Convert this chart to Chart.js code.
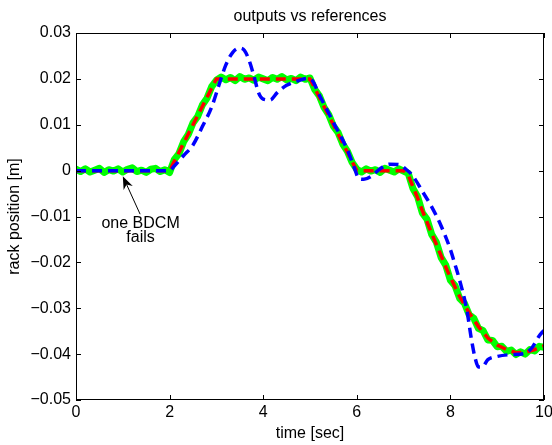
<!DOCTYPE html>
<html>
<head>
<meta charset="utf-8">
<script src="https://cdn.jsdelivr.net/npm/chart.js@4"></script>
<style>
  html, body { margin: 0; padding: 0; background: #fff; }
  #wrap { width: 552px; height: 445px; }
</style>
</head>
<body>
<div id="wrap"><canvas id="rackChart"></canvas></div>
<script>
/*********************************************************
 * DATA
 *********************************************************/
const chartTitle = "outputs vs references";
const xTitle = "time [sec]";
const yTitle = "rack position [m]";

const xTicks = [0, 2, 4, 6, 8, 10];
const xTickLabels = ["0", "2", "4", "6", "8", "10"];
const yTicks = [-0.05, -0.04, -0.03, -0.02, -0.01, 0, 0.01, 0.02, 0.03];
const yTickLabels = ["\u22120.05", "\u22120.04", "\u22120.03", "\u22120.02", "\u22120.01", "0", "0.01", "0.02", "0.03"];

// measured output (green, noisy), sampled every 0.1 s
const time = [
  0.0, 0.1, 0.2, 0.3, 0.4, 0.5, 0.6, 0.7, 0.8, 0.9,
  1.0, 1.1, 1.2, 1.3, 1.4, 1.5, 1.6, 1.7, 1.8, 1.9,
  2.0, 2.1, 2.2, 2.3, 2.4, 2.5, 2.6, 2.7, 2.8, 2.9,
  3.0, 3.1, 3.2, 3.3, 3.4, 3.5, 3.6, 3.7, 3.8, 3.9,
  4.0, 4.1, 4.2, 4.3, 4.4, 4.5, 4.6, 4.7, 4.8, 4.9,
  5.0, 5.1, 5.2, 5.3, 5.4, 5.5, 5.6, 5.7, 5.8, 5.9,
  6.0, 6.1, 6.2, 6.3, 6.4, 6.5, 6.6, 6.7, 6.8, 6.9,
  7.0, 7.1, 7.2, 7.3, 7.4, 7.5, 7.6, 7.7, 7.8, 7.9,
  8.0, 8.1, 8.2, 8.3, 8.4, 8.5, 8.6, 8.7, 8.8, 8.9,
  9.0, 9.1, 9.2, 9.3, 9.4, 9.5, 9.6, 9.7, 9.8, 9.9,
  10.0
];
const outputPos = [
  0.0003, -0.0002, 0.0004, -0.0003, 0.0001, 0.0005, -0.0004, 0.0002, -0.0001, 0.0004,
  -0.0003, 0.0003, 0.0006, -0.0002, 0.0001, -0.0004, 0.0003, 0.0005, -0.0002, 0.0002,
  -0.0004, 0.0024, 0.0037, 0.0063, 0.0079, 0.0104, 0.0118, 0.0143, 0.0158, 0.0183,
  0.0197, 0.0204, 0.0198, 0.0203, 0.0196, 0.0205, 0.0199, 0.0202, 0.0197, 0.0204,
  0.0200, 0.0196, 0.0203, 0.0199, 0.0205, 0.0198, 0.0201, 0.0196, 0.0204, 0.0199,
  0.0202, 0.0177, 0.0163, 0.0138, 0.0122, 0.0097, 0.0083, 0.0058, 0.0042, 0.0018,
  0.0003, -0.0003, 0.0004, -0.0001, 0.0002, -0.0004, 0.0005, 0.0001, -0.0003, 0.0004,
  -0.0001, -0.0006, -0.0039, -0.0057, -0.0092, -0.0106, -0.0139, -0.0156, -0.0189, -0.0206,
  -0.0239, -0.0251, -0.0279, -0.0289, -0.0314, -0.0322, -0.0344, -0.0349, -0.0369, -0.0370,
  -0.0384, -0.0383, -0.0394, -0.0391, -0.0401, -0.0395, -0.0400, -0.0390, -0.0393, -0.0383,
  -0.0385
];

// reference (red dashed)
const refTime = [0, 2, 3, 5, 6, 7, 7.1, 7.2, 7.3, 7.4, 7.5, 7.6, 7.7, 7.8, 7.9, 8.0,
  8.2, 8.4, 8.6, 8.8, 9.0, 9.2, 9.4, 9.6, 9.8, 10];
const refPos = [0, 0, 0.02, 0.02, 0, 0, -0.001, -0.0035, -0.006, -0.0087, -0.0112, -0.0137, -0.0161, -0.0185, -0.021, -0.0233,
  -0.0275, -0.031, -0.034, -0.0365, -0.038, -0.039, -0.0397, -0.0396, -0.039, -0.0382];

// output with one BDCM failed (blue dashed)
const failTime = [0, 2.0, 2.1, 2.3, 2.5, 2.7, 2.9, 3.05, 3.2, 3.35, 3.5, 3.6, 3.7, 3.8, 3.9,
  4.0, 4.15, 4.3, 4.5, 4.75, 4.95, 5.05, 5.2, 5.5, 5.8, 5.95, 6.05, 6.15, 6.3, 6.5, 6.7, 6.9,
  7.05, 7.2, 7.4, 7.6, 7.8, 8.0, 8.1, 8.2, 8.35, 8.45, 8.52, 8.6, 8.68, 8.8, 9.0, 9.3, 9.6, 9.75, 9.9, 10];
const failPos = [0, 0, 0.001, 0.0033, 0.0056, 0.0096, 0.0139, 0.0185, 0.023, 0.0258, 0.0267, 0.0262, 0.024, 0.0207, 0.017,
  0.0156, 0.0154, 0.017, 0.0186, 0.0196, 0.0201, 0.0196, 0.0165, 0.0105, 0.0045, 0.0005, -0.0018, -0.0019, -0.0013, 0.0004, 0.0014, 0.0013,
  0.0003, -0.0012, -0.0045, -0.0079, -0.012, -0.0172, -0.0205, -0.024, -0.0303, -0.0368, -0.0405, -0.0428, -0.0428, -0.0412, -0.0405, -0.0401, -0.0398, -0.0385, -0.036, -0.0348];

// annotation (data coordinates)
const noteLines = ["one BDCM", "fails"];
const noteX = 1.38;
const noteY = [-0.0116, -0.0147];
const arrowTail = [1.37, -0.0095];
const arrowTip = [1.0, -0.0012];

/*********************************************************
 * HELPERS
 *********************************************************/
const FONT = '"Liberation Sans", Arial, Helvetica, sans-serif';
Chart.defaults.font.family = FONT;
Chart.defaults.font.size = 16;
Chart.defaults.color = "#000";

function toPoints(xs, ys) {
  return xs.map((x, i) => ({ x: x, y: ys[i] }));
}

// box + inward ticks, title and annotation
const matlabFrame = {
  id: "matlabFrame",
  afterDatasetsDraw(chart) {
    const { ctx, chartArea: a, scales: { x, y } } = chart;
    const tl = 5;
    ctx.save();
    ctx.strokeStyle = "#000";
    ctx.lineWidth = 1;
    ctx.strokeRect(a.left + 0.5, a.top + 0.5, a.right - a.left - 1, a.bottom - a.top - 1);
    ctx.beginPath();
    xTicks.forEach(v => {
      const px = Math.round(x.getPixelForValue(v)) + 0.5;
      ctx.moveTo(px, a.bottom); ctx.lineTo(px, a.bottom - tl);
      ctx.moveTo(px, a.top); ctx.lineTo(px, a.top + tl);
    });
    yTicks.forEach(v => {
      const py = Math.round(y.getPixelForValue(v)) + 0.5;
      ctx.moveTo(a.left, py); ctx.lineTo(a.left + tl, py);
      ctx.moveTo(a.right, py); ctx.lineTo(a.right - tl, py);
    });
    ctx.stroke();
    ctx.restore();
  },
  afterDraw(chart) {
    const { ctx, chartArea: a, scales: { x, y } } = chart;
    ctx.save();
    ctx.fillStyle = "#000";
    ctx.strokeStyle = "#000";
    ctx.font = "16px " + FONT;
    ctx.textAlign = "center";

    // title
    ctx.textBaseline = "alphabetic";
    ctx.fillText(chartTitle, (a.left + a.right) / 2, a.top - 12);

    // note text
    ctx.textBaseline = "middle";
    noteLines.forEach((t, i) => {
      ctx.fillText(t, x.getPixelForValue(noteX), y.getPixelForValue(noteY[i]));
    });

    // arrow
    const x0 = x.getPixelForValue(arrowTail[0]), y0 = y.getPixelForValue(arrowTail[1]);
    const x1 = x.getPixelForValue(arrowTip[0]), y1 = y.getPixelForValue(arrowTip[1]);
    const ang = Math.atan2(y1 - y0, x1 - x0);
    const c = Math.cos(ang), s = Math.sin(ang);
    const hl = 13, hw = 5;
    ctx.lineWidth = 1;
    ctx.beginPath();
    ctx.moveTo(x0, y0);
    ctx.lineTo(x1 - c * hl * 0.7, y1 - s * hl * 0.7);
    ctx.stroke();
    ctx.beginPath();
    ctx.moveTo(x1, y1);
    ctx.lineTo(x1 - c * hl + s * hw, y1 - s * hl - c * hw);
    ctx.lineTo(x1 - c * hl * 0.7, y1 - s * hl * 0.7);
    ctx.lineTo(x1 - c * hl - s * hw, y1 - s * hl + c * hw);
    ctx.closePath();
    ctx.fill();
    ctx.restore();
  }
};

/*********************************************************
 * CHART
 *********************************************************/
const ctx = document.getElementById("rackChart").getContext("2d");

const rackChart = new Chart(ctx, {
  type: "line",
  data: {
    datasets: [
      {
        label: "one BDCM fails",
        data: toPoints(failTime, failPos),
        borderColor: "#0000ff",
        borderWidth: 3.5,
        borderDash: [10, 6],
        cubicInterpolationMode: "monotone",
        pointRadius: 0,
        fill: false
      },
      {
        label: "reference",
        data: toPoints(refTime, refPos),
        borderColor: "#ff0000",
        borderWidth: 3.5,
        borderDash: [10, 6],
        tension: 0,
        pointRadius: 0,
        fill: false
      },
      {
        label: "output",
        data: toPoints(time, outputPos),
        borderColor: "#00ff00",
        borderWidth: 7,
        borderJoinStyle: "round",
        borderCapStyle: "round",
        tension: 0,
        pointRadius: 0,
        fill: false
      }
    ]
  },
  options: {
    responsive: true,
    maintainAspectRatio: false,
    animation: false,
    events: [],
    layout: { padding: { top: 33, right: 8, bottom: 0, left: 0 } },
    plugins: {
      legend: { display: false },
      tooltip: { enabled: false },
      title: { display: false }
    },
    scales: {
      x: {
        type: "linear",
        min: 0,
        max: 10,
        grid: { display: false, drawTicks: false },
        border: { display: false },
        afterBuildTicks: s => { s.ticks = xTicks.map(v => ({ value: v })); },
        afterFit: s => { s.height = 45; s.paddingLeft = 0; s.paddingRight = 0; },
        ticks: {
          autoSkip: false,
          maxRotation: 0,
          padding: 3,
          callback: (v, i) => xTickLabels[i]
        },
        title: { display: true, text: xTitle, padding: { top: 0, bottom: 2 } }
      },
      y: {
        type: "linear",
        min: -0.05,
        max: 0.03,
        grid: { display: false, drawTicks: false },
        border: { display: false },
        afterBuildTicks: s => { s.ticks = yTicks.map(v => ({ value: v })); },
        afterFit: s => { s.width = 76; s.paddingTop = 0; s.paddingBottom = 0; },
        ticks: {
          autoSkip: false,
          padding: 5,
          callback: (v, i) => yTickLabels[i]
        },
        title: { display: true, text: yTitle, padding: { top: 5, bottom: 0 } }
      }
    }
  },
  plugins: [matlabFrame]
});
</script>
</body>
</html>
